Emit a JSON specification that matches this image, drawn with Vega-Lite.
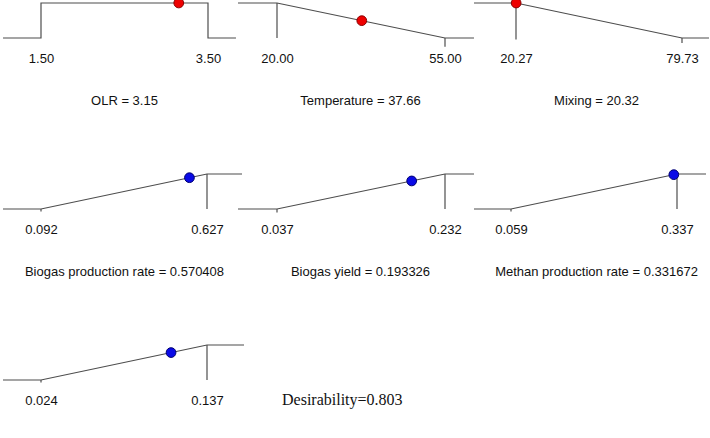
{
  "$schema": "https://vega.github.io/schema/vega-lite/v6.json",
  "padding": 0,
  "background": "white",
  "bounds": "flush",
  "columns": 3,
  "spacing": {"row": 121, "column": 0},
  "config": {
    "view": {"stroke": null},
    "axis": {
      "domain": false, "ticks": false, "tickSize": 0, "grid": false,
      "labelFont": "Liberation Sans", "labelFontSize": 13, "labelColor": "#111111",
      "labelPadding": 2, "labelFlush": false, "labelOverlap": false, "labelBound": false,
      "titleFont": "Liberation Sans", "titleFontSize": 13, "titleFontWeight": "normal",
      "titleColor": "#111111", "titlePadding": 29
    },
    "line": {"color": "#4d4d4d", "strokeWidth": 1.2},
    "rule": {"color": "#4d4d4d", "strokeWidth": 1.2},
    "point": {"filled": true, "size": 95, "opacity": 1, "strokeWidth": 1}
  },
  "datasets": {
    "ramps": [
      {"panel": "OLR", "kind": "ramp", "step": 1, "x": 1.045, "d": 0},
      {"panel": "OLR", "kind": "ramp", "step": 2, "x": 1.5, "d": 0},
      {"panel": "OLR", "kind": "ramp", "step": 3, "x": 1.5, "d": 1},
      {"panel": "OLR", "kind": "ramp", "step": 4, "x": 3.5, "d": 1},
      {"panel": "OLR", "kind": "ramp", "step": 5, "x": 3.5, "d": 0},
      {"panel": "OLR", "kind": "ramp", "step": 6, "x": 3.835, "d": 0},
      {"panel": "OLR", "kind": "now", "role": "factor", "x": 3.15, "d": 1},

      {"panel": "Temperature", "kind": "ramp", "step": 1, "x": 11.875, "d": 1},
      {"panel": "Temperature", "kind": "ramp", "step": 2, "x": 20, "d": 1},
      {"panel": "Temperature", "kind": "ramp", "step": 3, "x": 55, "d": 0},
      {"panel": "Temperature", "kind": "ramp", "step": 4, "x": 61.04, "d": 0},
      {"panel": "Temperature", "kind": "tick", "x": 20, "d": 1, "d2": 0},
      {"panel": "Temperature", "kind": "tick", "x": 55, "d": 0, "d2": -0.25},
      {"panel": "Temperature", "kind": "now", "role": "factor", "x": 37.66, "d": 0.49543},

      {"panel": "Mixing", "kind": "ramp", "step": 1, "x": 5.226, "d": 1},
      {"panel": "Mixing", "kind": "ramp", "step": 2, "x": 20.27, "d": 1},
      {"panel": "Mixing", "kind": "ramp", "step": 3, "x": 79.73, "d": 0},
      {"panel": "Mixing", "kind": "ramp", "step": 4, "x": 89.4, "d": 0},
      {"panel": "Mixing", "kind": "tick", "x": 20.27, "d": 1, "d2": -0.04},
      {"panel": "Mixing", "kind": "tick", "x": 79.73, "d": 0, "d2": -0.14},
      {"panel": "Mixing", "kind": "now", "role": "factor", "x": 20.32, "d": 0.99916},

      {"panel": "BPR", "kind": "ramp", "step": 1, "x": -0.0305, "d": 0},
      {"panel": "BPR", "kind": "ramp", "step": 2, "x": 0.092, "d": 0},
      {"panel": "BPR", "kind": "ramp", "step": 3, "x": 0.627, "d": 1},
      {"panel": "BPR", "kind": "ramp", "step": 4, "x": 0.74, "d": 1},
      {"panel": "BPR", "kind": "tick", "x": 0.092, "d": 0, "d2": -0.07},
      {"panel": "BPR", "kind": "tick", "x": 0.627, "d": 1, "d2": 0},
      {"panel": "BPR", "kind": "now", "role": "response", "x": 0.570408, "d": 0.89422},

      {"panel": "BY", "kind": "ramp", "step": 1, "x": -0.00827, "d": 0},
      {"panel": "BY", "kind": "ramp", "step": 2, "x": 0.037, "d": 0},
      {"panel": "BY", "kind": "ramp", "step": 3, "x": 0.232, "d": 1},
      {"panel": "BY", "kind": "ramp", "step": 4, "x": 0.2657, "d": 1},
      {"panel": "BY", "kind": "tick", "x": 0.037, "d": 0, "d2": -0.1},
      {"panel": "BY", "kind": "tick", "x": 0.232, "d": 1, "d2": 0},
      {"panel": "BY", "kind": "now", "role": "response", "x": 0.193326, "d": 0.80167},

      {"panel": "MPR", "kind": "ramp", "step": 1, "x": -0.00296, "d": 0},
      {"panel": "MPR", "kind": "ramp", "step": 2, "x": 0.059, "d": 0},
      {"panel": "MPR", "kind": "ramp", "step": 3, "x": 0.337, "d": 1},
      {"panel": "MPR", "kind": "ramp", "step": 4, "x": 0.3856, "d": 1},
      {"panel": "MPR", "kind": "tick", "x": 0.059, "d": 0, "d2": -0.07},
      {"panel": "MPR", "kind": "tick", "x": 0.337, "d": 1, "d2": 0},
      {"panel": "MPR", "kind": "now", "role": "response", "x": 0.331672, "d": 0.98083},

      {"panel": "MY", "kind": "ramp", "step": 1, "x": -0.00187, "d": 0},
      {"panel": "MY", "kind": "ramp", "step": 2, "x": 0.024, "d": 0},
      {"panel": "MY", "kind": "ramp", "step": 3, "x": 0.137, "d": 1},
      {"panel": "MY", "kind": "ramp", "step": 4, "x": 0.1622, "d": 1},
      {"panel": "MY", "kind": "tick", "x": 0.024, "d": 0, "d2": -0.07},
      {"panel": "MY", "kind": "tick", "x": 0.137, "d": 1, "d2": 0},
      {"panel": "MY", "kind": "now", "role": "response", "x": 0.112527, "d": 0.78342}
    ],
    "overall": [
      {"label": "Desirability=0.803"}
    ]
  },
  "concat": [
    {
      "width": 236, "height": 50,
      "data": {"name": "ramps"},
      "transform": [{"filter": "datum.panel === 'OLR'"}],
      "encoding": {
        "x": {"field": "x", "type": "quantitative",
              "scale": {"domain": [1.08084, 3.90719], "nice": false, "zero": false},
              "axis": {"values": [1.5, 3.5], "format": ".2f", "title": "OLR = 3.15"}},
        "y": {"field": "d", "type": "quantitative",
              "scale": {"domain": [-0.3429, 1.0857], "nice": false, "zero": false}, "axis": null}
      },
      "layer": [
        {"transform": [{"filter": "datum.kind === 'ramp'"}], "mark": "line", "encoding": {"order": {"field": "step"}}},
        {"transform": [{"filter": "datum.kind === 'tick'"}], "mark": "rule", "encoding": {"y2": {"field": "d2"}}},
        {"transform": [{"filter": "datum.kind === 'now'"}], "mark": {"type": "point", "clip": true},
         "encoding": {
           "color": {"field": "role", "type": "nominal", "scale": {"domain": ["factor", "response"], "range": ["#ee0000", "#0a0ae6"]}, "legend": null},
           "stroke": {"field": "role", "type": "nominal", "scale": {"domain": ["factor", "response"], "range": ["#8a0000", "#000070"]}, "legend": null}
         }}
      ]
    },
    {
      "width": 236, "height": 50,
      "data": {"name": "ramps"},
      "transform": [{"filter": "datum.panel === 'Temperature'"}],
      "encoding": {
        "x": {"field": "x", "type": "quantitative",
              "scale": {"domain": [12.7083, 61.875], "nice": false, "zero": false},
              "axis": {"values": [20, 55], "format": ".2f", "title": "Temperature = 37.66"}},
        "y": {"field": "d", "type": "quantitative",
              "scale": {"domain": [-0.3429, 1.0857], "nice": false, "zero": false}, "axis": null}
      },
      "layer": [
        {"transform": [{"filter": "datum.kind === 'ramp'"}], "mark": "line", "encoding": {"order": {"field": "step"}}},
        {"transform": [{"filter": "datum.kind === 'tick'"}], "mark": "rule", "encoding": {"y2": {"field": "d2"}}},
        {"transform": [{"filter": "datum.kind === 'now'"}], "mark": {"type": "point", "clip": true},
         "encoding": {
           "color": {"field": "role", "type": "nominal", "scale": {"domain": ["factor", "response"], "range": ["#ee0000", "#0a0ae6"]}, "legend": null},
           "stroke": {"field": "role", "type": "nominal", "scale": {"domain": ["factor", "response"], "range": ["#8a0000", "#000070"]}, "legend": null}
         }}
      ]
    },
    {
      "width": 236, "height": 50,
      "data": {"name": "ramps"},
      "transform": [{"filter": "datum.panel === 'Mixing'"}],
      "encoding": {
        "x": {"field": "x", "type": "quantitative",
              "scale": {"domain": [6.6587, 91.192], "nice": false, "zero": false},
              "axis": {"values": [20.27, 79.73], "format": ".2f", "title": "Mixing = 20.32"}},
        "y": {"field": "d", "type": "quantitative",
              "scale": {"domain": [-0.3429, 1.0857], "nice": false, "zero": false}, "axis": null}
      },
      "layer": [
        {"transform": [{"filter": "datum.kind === 'ramp'"}], "mark": "line", "encoding": {"order": {"field": "step"}}},
        {"transform": [{"filter": "datum.kind === 'tick'"}], "mark": "rule", "encoding": {"y2": {"field": "d2"}}},
        {"transform": [{"filter": "datum.kind === 'now'"}], "mark": {"type": "point", "clip": true},
         "encoding": {
           "color": {"field": "role", "type": "nominal", "scale": {"domain": ["factor", "response"], "range": ["#ee0000", "#0a0ae6"]}, "legend": null},
           "stroke": {"field": "role", "type": "nominal", "scale": {"domain": ["factor", "response"], "range": ["#8a0000", "#000070"]}, "legend": null}
         }}
      ]
    },
    {
      "width": 236, "height": 50,
      "data": {"name": "ramps"},
      "transform": [{"filter": "datum.panel === 'BPR'"}],
      "encoding": {
        "x": {"field": "x", "type": "quantitative",
              "scale": {"domain": [-0.020801, 0.739802], "nice": false, "zero": false},
              "axis": {"values": [0.092, 0.627], "format": ".3f", "title": "Biogas production rate = 0.570408"}},
        "y": {"field": "d", "type": "quantitative",
              "scale": {"domain": [-0.3429, 1.0857], "nice": false, "zero": false}, "axis": null}
      },
      "layer": [
        {"transform": [{"filter": "datum.kind === 'ramp'"}], "mark": "line", "encoding": {"order": {"field": "step"}}},
        {"transform": [{"filter": "datum.kind === 'tick'"}], "mark": "rule", "encoding": {"y2": {"field": "d2"}}},
        {"transform": [{"filter": "datum.kind === 'now'"}], "mark": "point",
         "encoding": {
           "color": {"field": "role", "type": "nominal", "scale": {"domain": ["factor", "response"], "range": ["#ee0000", "#0a0ae6"]}, "legend": null},
           "stroke": {"field": "role", "type": "nominal", "scale": {"domain": ["factor", "response"], "range": ["#8a0000", "#000070"]}, "legend": null}
         }}
      ]
    },
    {
      "width": 236, "height": 50,
      "data": {"name": "ramps"},
      "transform": [{"filter": "datum.panel === 'BY'"}],
      "encoding": {
        "x": {"field": "x", "type": "quantitative",
              "scale": {"domain": [-0.003625, 0.270304], "nice": false, "zero": false},
              "axis": {"values": [0.037, 0.232], "format": ".3f", "title": "Biogas yield = 0.193326"}},
        "y": {"field": "d", "type": "quantitative",
              "scale": {"domain": [-0.3429, 1.0857], "nice": false, "zero": false}, "axis": null}
      },
      "layer": [
        {"transform": [{"filter": "datum.kind === 'ramp'"}], "mark": "line", "encoding": {"order": {"field": "step"}}},
        {"transform": [{"filter": "datum.kind === 'tick'"}], "mark": "rule", "encoding": {"y2": {"field": "d2"}}},
        {"transform": [{"filter": "datum.kind === 'now'"}], "mark": "point",
         "encoding": {
           "color": {"field": "role", "type": "nominal", "scale": {"domain": ["factor", "response"], "range": ["#ee0000", "#0a0ae6"]}, "legend": null},
           "stroke": {"field": "role", "type": "nominal", "scale": {"domain": ["factor", "response"], "range": ["#8a0000", "#000070"]}, "legend": null}
         }}
      ]
    },
    {
      "width": 236, "height": 50,
      "data": {"name": "ramps"},
      "transform": [{"filter": "datum.panel === 'MPR'"}],
      "encoding": {
        "x": {"field": "x", "type": "quantitative",
              "scale": {"domain": [0.003735, 0.398966], "nice": false, "zero": false},
              "axis": {"values": [0.059, 0.337], "format": ".3f", "title": "Methan production rate = 0.331672"}},
        "y": {"field": "d", "type": "quantitative",
              "scale": {"domain": [-0.3429, 1.0857], "nice": false, "zero": false}, "axis": null}
      },
      "layer": [
        {"transform": [{"filter": "datum.kind === 'ramp'"}], "mark": "line", "encoding": {"order": {"field": "step"}}},
        {"transform": [{"filter": "datum.kind === 'tick'"}], "mark": "rule", "encoding": {"y2": {"field": "d2"}}},
        {"transform": [{"filter": "datum.kind === 'now'"}], "mark": "point",
         "encoding": {
           "color": {"field": "role", "type": "nominal", "scale": {"domain": ["factor", "response"], "range": ["#ee0000", "#0a0ae6"]}, "legend": null},
           "stroke": {"field": "role", "type": "nominal", "scale": {"domain": ["factor", "response"], "range": ["#8a0000", "#000070"]}, "legend": null}
         }}
      ]
    },
    {
      "width": 236, "height": 50,
      "data": {"name": "ramps"},
      "transform": [{"filter": "datum.panel === 'MY'"}],
      "encoding": {
        "x": {"field": "x", "type": "quantitative",
              "scale": {"domain": [0.000175, 0.160825], "nice": false, "zero": false},
              "axis": {"values": [0.024, 0.137], "format": ".3f", "title": "Methan yield = 0.112527"}},
        "y": {"field": "d", "type": "quantitative",
              "scale": {"domain": [-0.3429, 1.0857], "nice": false, "zero": false}, "axis": null}
      },
      "layer": [
        {"transform": [{"filter": "datum.kind === 'ramp'"}], "mark": "line", "encoding": {"order": {"field": "step"}}},
        {"transform": [{"filter": "datum.kind === 'tick'"}], "mark": "rule", "encoding": {"y2": {"field": "d2"}}},
        {"transform": [{"filter": "datum.kind === 'now'"}], "mark": "point",
         "encoding": {
           "color": {"field": "role", "type": "nominal", "scale": {"domain": ["factor", "response"], "range": ["#ee0000", "#0a0ae6"]}, "legend": null},
           "stroke": {"field": "role", "type": "nominal", "scale": {"domain": ["factor", "response"], "range": ["#8a0000", "#000070"]}, "legend": null}
         }}
      ]
    },
    {
      "width": 236, "height": 50,
      "data": {"name": "overall"},
      "mark": {"type": "text", "font": "Liberation Serif", "fontSize": 16, "align": "left",
               "baseline": "alphabetic", "dx": -78, "dy": 38, "color": "#111111"},
      "encoding": {"text": {"field": "label", "type": "nominal"}}
    }
  ]
}
